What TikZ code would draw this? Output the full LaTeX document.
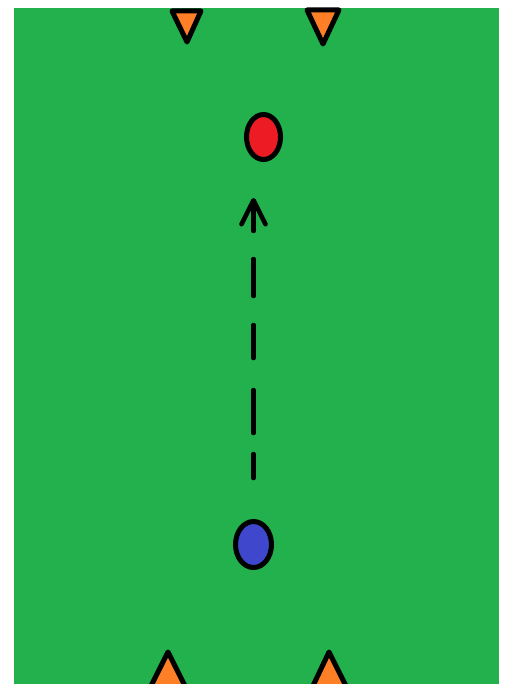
\documentclass[tikz,border=0pt]{standalone}
\usetikzlibrary{arrows.meta,shapes.geometric}
\definecolor{cPitch}{HTML}{22B14C}
\definecolor{cCone}{HTML}{FF7F27}
\definecolor{cRed}{HTML}{ED1C24}
\definecolor{cBlue}{HTML}{3F48CC}
\definecolor{cInk}{HTML}{000000}

\begin{document}
\begin{tikzpicture}[
  x=1pt, y=-1pt,
  player/.style={ellipse, draw=cInk, fill=#1, line width=5pt,
                 minimum width=34pt, minimum height=45pt, inner sep=0pt},
  cone/.style={draw=cInk, fill=cCone, line width=5pt, line join=round},
  run/.style={-{Straight Barb[length=24pt,width=24pt,round]}, draw=cInk,
              line width=4.5pt, line cap=round,
              dash pattern=on 24pt off 21pt on 43pt off 32pt on 33pt off 29pt
                           on 37pt off 28pt on 200pt},
]
\useasboundingbox (0,0) rectangle (504,684);

% ---------------- pitch ----------------
\fill[cPitch] (14,8) rectangle (499,684);

% ---------------- cones ----------------
\begin{scope}
  \clip (14,8) rectangle (499,684);
  \draw[cone] (172,11) -- (201,11) -- (187,42) -- cycle;
  \draw[cone] (307,10) -- (339,10) -- (323,44) -- cycle;
  \draw[cone] (168,652) -- (187,690) -- (149,690) -- cycle;
  \draw[cone] (329,652) -- (348,690) -- (311,690) -- cycle;
\end{scope}

% ---------------- players ----------------
\node[player=cRed] (red) at (263.5,137) {};
\node[player=cBlue, minimum width=36pt, minimum height=46pt] (blue) at (253.5,544.5) {};

% ---------------- run ----------------
\draw[run, shorten <=41pt, shorten >=36pt] (blue) -- (blue |- red.south);

\end{tikzpicture}
\end{document}
